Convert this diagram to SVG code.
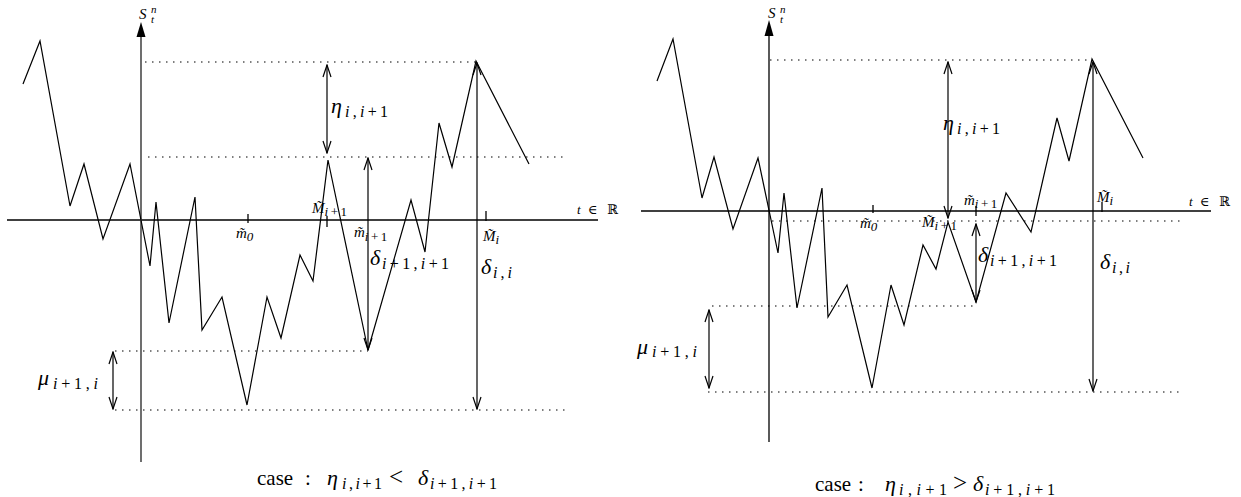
<svg xmlns="http://www.w3.org/2000/svg" width="1241" height="497" viewBox="0 0 1241 497">
<style>
.ax{stroke:#000;stroke-width:1.3;fill:none}
.axg{stroke:#555;stroke-width:1.7;fill:none}
.pth{stroke:#000;stroke-width:1.2;fill:none;stroke-linejoin:miter}
.dot{stroke:#000;stroke-width:1.2;stroke-dasharray:1.5 5.5;fill:none}
.arr{stroke:#000;stroke-width:1.2;fill:none;marker-start:url(#v);marker-end:url(#v)}
.tk{stroke:#000;stroke-width:1.3}
text{font-family:"Liberation Serif","DejaVu Serif",serif;fill:#000}
.m{font-style:italic}
.g{font-size:22px;font-style:italic}
.s{font-size:16px;font-style:italic}
.u{font-style:normal}
.sm{font-size:15px;font-style:italic}
.ss{font-size:13px;font-style:italic;letter-spacing:2.5px}
.cap{font-size:21px}
.ax-l{font-size:13px}
</style>
<defs>
<marker id="v" viewBox="-13 -5 14 10" refX="0" refY="0" markerWidth="14" markerHeight="10" markerUnits="userSpaceOnUse" orient="auto-start-reverse">
<path d="M-12,-4 L0,0 L-12,4" fill="none" stroke="#000" stroke-width="1.2"/>
</marker>
</defs>

<g id="left-panel">
<g id="left-axes">
<line class="ax" x1="7" y1="220" x2="598" y2="220"/>
<line class="axg" x1="141" y1="36" x2="141" y2="462"/>
<polygon points="141,22 136.5,37 145.5,37" fill="#000"/>
<line class="tk" x1="248" y1="214" x2="248" y2="223"/>
<line class="tk" x1="327" y1="216" x2="327" y2="227"/>
<line class="tk" x1="486" y1="211" x2="486" y2="221"/>
</g>
<g id="left-guides">
<line class="dot" x1="145" y1="62" x2="476" y2="62"/>
<line class="dot" x1="148" y1="157" x2="565" y2="157"/>
<line class="dot" x1="115" y1="351" x2="368" y2="351"/>
<line class="dot" x1="115" y1="410" x2="568" y2="410"/>
</g>
<g id="left-path">
<polyline class="pth" points="23,84 40,41 70,206 84,164 103,239 130,164 150,266 156,202 169,323 195,197 202,330 222,297 247,405 267,297 281,338 300,255 313,281 328,160 368,350 411,200 425,252 439,123 452,167 476,61 529,164"/>
</g>
<g id="left-labels">
<text class="m" x="139" y="19" font-size="15">S</text>
<text class="m" x="151" y="13" font-size="11">n</text>
<text class="m" x="151" y="23" font-size="11">t</text>
<text class="g" x="331" y="113">η</text>
<text class="s" x="345" y="117" textLength="43" lengthAdjust="spacing">i<tspan class="u">,</tspan>i<tspan class="u">+1</tspan></text>
<text class="g" x="370" y="265">δ</text>
<text class="s" x="382" y="269" textLength="67" lengthAdjust="spacing">i<tspan class="u">+1,</tspan>i<tspan class="u">+1</tspan></text>
<text class="g" x="481" y="274">δ</text>
<text class="s" x="493" y="278" textLength="19" lengthAdjust="spacing">i<tspan class="u">,</tspan>i</text>
<text class="g" x="38" y="385">μ</text>
<text class="s" x="53" y="389" textLength="45" lengthAdjust="spacing">i<tspan class="u">+1,</tspan>i</text>
<text class="sm" x="236" y="238">m̃<tspan class="ss u" dy="3">0</tspan></text>
<text class="sm" x="312" y="213">M̃<tspan class="ss" dy="3">i<tspan class="u">+1</tspan></tspan></text>
<text class="sm" x="354" y="237">m̃<tspan class="ss" dy="4">i<tspan class="u">+1</tspan></tspan></text>
<text class="sm" x="483" y="241">M̃<tspan class="ss" dy="3">i</tspan></text>
<text class="ax-l m" x="577" y="214">t</text>
<text class="ax-l" x="588" y="214">∈</text>
<text class="ax-l" x="607" y="214">ℝ</text>
</g>
<g id="left-caption">
<text class="cap" x="257" y="485">case</text>
<text class="cap" x="305" y="485">:</text>
<text class="g" x="327" y="485">η</text>
<text class="s" x="342" y="489" textLength="40" lengthAdjust="spacing">i<tspan class="u">,</tspan>i<tspan class="u">+1</tspan></text>
<text x="389" y="485" font-size="25">&lt;</text>
<text class="g" x="418" y="485">δ</text>
<text class="s" x="430" y="489" textLength="67" lengthAdjust="spacing">i<tspan class="u">+1,</tspan>i<tspan class="u">+1</tspan></text>
</g>
</g>

<g id="right-panel">
<g id="right-axes">
<line class="ax" x1="641" y1="211" x2="1211" y2="211"/>
<line class="ax" x1="769" y1="35" x2="769" y2="442"/>
<polygon points="769,20 764.5,36 773.5,36" fill="#000"/>
<line class="tk" x1="873" y1="205" x2="873" y2="213"/>
<line class="tk" x1="976" y1="206" x2="976" y2="216"/>
<line class="tk" x1="1102" y1="202" x2="1102" y2="212"/>
</g>
<g id="right-guides">
<line class="dot" x1="770" y1="60" x2="1092" y2="60"/>
<line class="dot" x1="772" y1="221" x2="1180" y2="221"/>
<line class="dot" x1="712" y1="306" x2="976" y2="306"/>
<line class="dot" x1="708" y1="392" x2="1180" y2="392"/>
</g>
<g id="right-path">
<polyline class="pth" points="657,81 673,39 702,198 714,157 733,229 758,158 778,253 784,193 797,308 822,188 828,317 847,285 872,388 891,285 904,325 923,245 936,269 948,222 976,302 1006,193 1031,232 1057,118 1069,161 1092,59 1143,158"/>
</g>
<g id="right-labels">
<text class="m" x="768" y="18" font-size="15">S</text>
<text class="m" x="780" y="13" font-size="11">n</text>
<text class="m" x="780" y="23" font-size="11">t</text>
<text class="g" x="943" y="130">η</text>
<text class="s" x="957" y="134" textLength="43" lengthAdjust="spacing">i<tspan class="u">,</tspan>i<tspan class="u">+1</tspan></text>
<text class="g" x="978" y="262">δ</text>
<text class="s" x="990" y="266" textLength="67" lengthAdjust="spacing">i<tspan class="u">+1,</tspan>i<tspan class="u">+1</tspan></text>
<text class="g" x="1100" y="269">δ</text>
<text class="s" x="1112" y="273" textLength="18" lengthAdjust="spacing">i<tspan class="u">,</tspan>i</text>
<text class="g" x="637" y="354">μ</text>
<text class="s" x="652" y="357" textLength="45" lengthAdjust="spacing">i<tspan class="u">+1,</tspan>i</text>
<text class="sm" x="860" y="228">m̃<tspan class="ss u" dy="3">0</tspan></text>
<text class="sm" x="922" y="227">M̃<tspan class="ss" dy="3">i<tspan class="u">+1</tspan></tspan></text>
<text class="sm" x="964" y="205">m̃<tspan class="ss" dy="3">i<tspan class="u">+1</tspan></tspan></text>
<text class="sm" x="1097" y="202">M̃<tspan class="ss" dy="3">i</tspan></text>
<text class="ax-l m" x="1189" y="206">t</text>
<text class="ax-l" x="1200" y="206">∈</text>
<text class="ax-l" x="1219" y="206">ℝ</text>
</g>
<g id="right-caption">
<text class="cap" x="815" y="491">case</text>
<text class="cap" x="858" y="491">:</text>
<text class="g" x="885" y="491">η</text>
<text class="s" x="899" y="495" textLength="48" lengthAdjust="spacing">i<tspan class="u">,</tspan>i<tspan class="u">+1</tspan></text>
<text x="953" y="491" font-size="25">&gt;</text>
<text class="g" x="973" y="491">δ</text>
<text class="s" x="985" y="495" textLength="70" lengthAdjust="spacing">i<tspan class="u">+1,</tspan>i<tspan class="u">+1</tspan></text>
</g>
</g>

<g id="connectors">
<line class="arr" x1="327" y1="65" x2="327" y2="153"/>
<line class="arr" x1="368" y1="158" x2="368" y2="350"/>
<line class="arr" x1="477" y1="63" x2="477" y2="409"/>
<line class="arr" x1="113" y1="352" x2="113" y2="409"/>
<line class="arr" x1="948" y1="62" x2="948" y2="218"/>
<line class="arr" x1="976" y1="224" x2="976" y2="302"/>
<line class="arr" x1="1093" y1="62" x2="1093" y2="391"/>
<line class="arr" x1="709" y1="310" x2="709" y2="388"/>
</g>
</svg>
